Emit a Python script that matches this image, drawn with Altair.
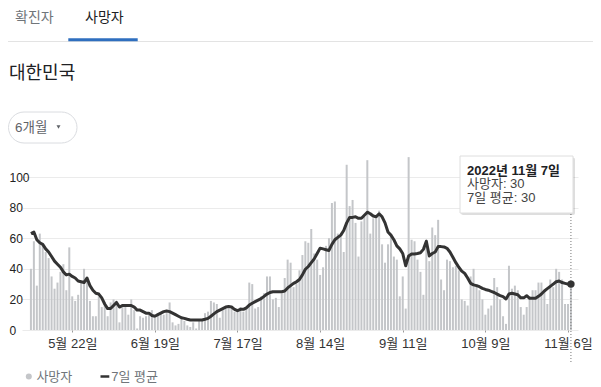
import altair as alt
import pandas as pd

# ---------------- data ----------------
start_date = "2022-05-08"

deaths = [
    40, 58, 29, 63, 56, 51, 47, 35, 27, 31,
    38, 43, 26, 54, 22, 19, 23, 32, 40, 34,
    19, 9, 9, 22, 15, 18, 9, 18, 20, 19,
    5, 17, 17, 10, 20, 13, 1, 9, 8, 9,
    10, 13, 8, 11, 11, 10, 11, 18, 5, 3,
    4, 8, 6, 3, 2, 5, 1, 6, 7, 11,
    12, 19, 18, 17, 8, 14, 15, 14, 14, 12,
    13, 15, 12, 14, 31, 30, 14, 15, 22, 24,
    35, 35, 20, 21, 15, 24, 34, 46, 44, 28,
    30, 39, 49, 58, 57, 66, 50, 46, 36, 41,
    55, 60, 83, 84, 63, 61, 51, 108, 81, 85,
    70, 48, 71, 74, 111, 63, 73, 75, 78, 56,
    44, 56, 61, 48, 46, 22, 35, 14, 113, 59,
    58, 46, 38, 23, 59, 45, 67, 62, 72, 33,
    26, 46, 45, 41, 42, 39, 20, 19, 16, 35,
    40, 30, 26, 20, 10, 14, 16, 34, 28, 20,
    9, 4, 42, 27, 29, 26, 15, 10, 15, 22,
    26, 26, 31, 31, 26, 17, 33, 28, 40, 38,
    33, 17, 17, 30,
]

avg7 = [
    63, 64, 59, 57, 56, 53, 51, 48, 45, 43,
    41, 38, 36, 36.5, 35, 34, 32, 31.5, 31, 34,
    29, 26, 24, 23.5, 21, 17, 14, 14, 16, 18,
    15, 16, 16, 16, 16, 15, 13, 13, 12, 11,
    11, 9.5, 9, 10, 11, 12, 12.4, 12, 11, 10,
    9, 8, 7.6, 7, 6.5, 6.5, 6.5, 6.5, 6.5, 7,
    7.6, 9, 10.5, 12, 13, 14, 15, 15.3, 15, 13.5,
    12.6, 13.5, 13.5, 14.5, 16.3, 17.5, 18.5, 19.5, 20.5, 22,
    23.5, 24.5, 25, 25, 25, 25, 25.5, 27.5, 29, 30.5,
    31.5, 33, 36, 39.7, 41.5, 44, 46.5, 50, 53.5, 53,
    52.5, 52, 56, 59, 60.5, 62, 65, 70, 73.6, 73.6,
    74, 73, 73, 75, 77, 76, 74.5, 74, 76, 74,
    70, 64, 62, 59, 55, 53, 50, 42, 48.4, 49.7,
    49.7, 50, 50.5, 52.7, 58, 48.4, 50, 51, 54.5, 54.5,
    54.3, 53.4, 51, 47.5, 44, 41, 38.5, 37, 34, 30.5,
    29.5, 29, 28.3, 27.2, 26.5, 26, 25.2, 24.5, 23.5, 22.5,
    21.8, 20.3, 23.5, 24, 23.5, 23, 21, 21, 22.4, 20.7,
    20.7, 20.7, 22, 23.5, 25.5, 27, 28.5, 30, 31.5, 32,
    31, 30.5, 30, 30,
]

tick_dates = ["2022-05-22", "2022-06-19", "2022-07-17", "2022-08-14",
              "2022-09-11", "2022-10-09", "2022-11-06"]
tick_labels = ["5월 22일", "6월 19일", "7월 17일", "8월 14일",
               "9월 11일", "10월 9일", "11월 6일"]
y_ticks = [0, 20, 40, 60, 80, 100]

tab_labels = ["확진자", "사망자"]
region_title = "대한민국"
range_label = "6개월"
legend_labels = ["사망자", "7일 평균"]

# ---------------- build table ----------------
start = pd.Timestamp(start_date)
dates = pd.date_range(start, periods=len(deaths), freq="D")
df = pd.DataFrame({
    "day": list(range(len(deaths))),
    "deaths": deaths,
    "avg": avg7,
})
tick_days = [(pd.Timestamp(t) - start).days for t in tick_dates]
last = df.iloc[[-1]].reset_index(drop=True)
last_date = dates[-1]
tt_title = f"{last_date.year}년 {last_date.month}월 {last_date.day}일"
tt_line1 = f"{legend_labels[0]}: {int(last['deaths'][0])}"
tt_line2 = f"{legend_labels[1]}: {int(round(last['avg'][0]))}"

FONT = "Liberation Sans, Noto Sans CJK KR, sans-serif"

label_expr = ("[" + ",".join(f"'{l}'" for l in tick_labels) + "][indexof(["
              + ",".join(str(d) for d in tick_days) + "], datum.value)]")

x_scale = alt.Scale(domain=[-1.33, 183.7], nice=False, zero=False)
y_scale = alt.Scale(domain=[0, 117.65], nice=False)

x_axis = alt.Axis(values=tick_days, labelExpr=label_expr, grid=False, domain=False,
                  ticks=True, tickSize=2, tickColor="#9a9a9a", labelPadding=11,
                  labelBaseline="middle", labelFontSize=13, labelColor="#333333",
                  labelFont=FONT, title=None, labelFlush=False, labelOverlap=False)
y_axis = alt.Axis(values=y_ticks, grid=True, gridColor="#ebebeb", domain=False,
                  ticks=False, tickSize=0, labelAlign="left", labelPadding=13,
                  labelBaseline="middle", labelFontSize=12, labelColor="#222222",
                  labelFont=FONT, title=None)

X = alt.X("day:Q", scale=x_scale, axis=x_axis)
Y_bar = alt.Y("deaths:Q", scale=y_scale, axis=y_axis)
Y_line = alt.Y("avg:Q", scale=y_scale, axis=y_axis)

base = alt.Chart(df)
bars = base.mark_bar(size=2, color="#c4c6c9").encode(x=X, y=Y_bar)
line = base.mark_line(color="#333333", strokeWidth=3, strokeJoin="round").encode(x=X, y=Y_line)

vrule = alt.Chart(last).mark_rule(strokeDash=[1, 2], color="#777777", strokeWidth=1).encode(
    x=X, y=alt.value(7), y2=alt.value(212))
dot = alt.Chart(last).mark_circle(size=55, color="#333333", opacity=1).encode(x=X, y=Y_line)

one = pd.DataFrame({"k": [0]})


def txt(s, x, y, size=13, color="#333333", weight="normal", align="left"):
    return alt.Chart(one).mark_text(text=s, font=FONT, fontSize=size, color=color,
                                    fontWeight=weight, align=align, baseline="middle").encode(
        x=alt.value(x), y=alt.value(y))


def box(x, x2, y, y2, **kw):
    return alt.Chart(one).mark_rect(**kw).encode(
        x=alt.value(x), x2=alt.value(x2), y=alt.value(y), y2=alt.value(y2))


# tooltip
tt_shadow = box(439, 553, 7.5, 65, color="#000000", opacity=0.13, cornerRadius=2)
tt_box = box(438, 551, 6, 63, fill="#ffffff", stroke="#dedede", strokeWidth=1)
tt_t1 = txt(tt_title, 445, 20.5, 13, "#202124", "bold")
tt_t2 = txt(tt_line1, 445, 34, 13, "#444444")
tt_t3 = txt(tt_line2, 445, 47.5, 13, "#444444")

# header
sep = alt.Chart(one).mark_rule(color="#e3e3e3", strokeWidth=1).encode(
    x=alt.value(-14), x2=alt.value(571), y=alt.value(-108.5))
underline = box(46.3, 115.7, -111.7, -108.7, color="#2f6fbf")
tab1 = txt(tab_labels[0], -7, -131.7, 14, "#70757a")
tab2 = txt(tab_labels[1], 63, -131.7, 14, "#202124")
title = txt(region_title, -13, -76, 18, "#202124")
pill = box(-13.5, 55, -38, -7, fill="#ffffff", stroke="#dadce0", strokeWidth=1, cornerRadius=15.5)
pill_t = txt(range_label, -7, -22.5, 13.5, "#5f6368")
arrow = alt.Chart(one).mark_point(shape="triangle-down", filled=True, size=16, color="#5f6368",
                                  opacity=1).encode(x=alt.value(36.5), y=alt.value(-23))

# legend
lg_dot = alt.Chart(one).mark_circle(size=36, color="#c4c6c9", opacity=1).encode(
    x=alt.value(6.8), y=alt.value(226.5))
lg_t1 = txt(legend_labels[0], 14.4, 226.5, 13, "#70757a")
lg_dash = alt.Chart(one).mark_rule(color="#333333", strokeWidth=2.5).encode(
    x=alt.value(78.5), x2=alt.value(87.3), y=alt.value(226.5))
lg_t2 = txt(legend_labels[1], 89.2, 226.5, 13, "#70757a")

chart = alt.layer(
    bars, line, vrule, dot,
    tt_shadow, tt_box, tt_t1, tt_t2, tt_t3,
    sep, underline, tab1, tab2, title, pill, pill_t, arrow,
    lg_dot, lg_t1, lg_dash, lg_t2,
).properties(
    width=556, height=180,
    padding={"left": 14, "top": 142, "right": 15, "bottom": 54},
    autosize=alt.AutoSizeParams(type="none"),
).configure(font=FONT).configure_view(stroke="transparent", strokeWidth=0)

chart.save("out.html", embed_options={"renderer": "svg", "actions": False})
